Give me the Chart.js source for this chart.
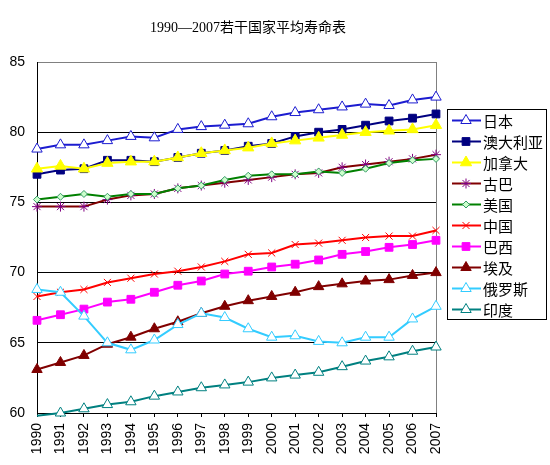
<!DOCTYPE html>
<html>
<head>
<meta charset="utf-8">
<script src="https://cdn.jsdelivr.net/npm/chart.js@4/dist/chart.umd.min.js"></script>
<style>
  html, body { margin: 0; padding: 0; background: #fff; overflow: hidden; }
  canvas { display: block; }
</style>
</head>
<body>
<canvas id="c" width="550" height="465"></canvas>
<script>
const chartTitle = '1990—2007若干国家平均寿命表';
const years = ['1990','1991','1992','1993','1994','1995','1996','1997','1998','1999','2000','2001','2002','2003','2004','2005','2006','2007'];
const yTicks = [60, 65, 70, 75, 80, 85];

const japan     = [78.8, 79.1, 79.1, 79.4, 79.7, 79.6, 80.2, 80.4, 80.5, 80.6, 81.1, 81.4, 81.6, 81.8, 82.0, 81.9, 82.3, 82.5];
const australia = [77.0, 77.3, 77.4, 78.0, 78.0, 77.9, 78.2, 78.5, 78.7, 79.0, 79.2, 79.7, 80.0, 80.2, 80.5, 80.8, 81.0, 81.3];
const canada    = [77.4, 77.6, 77.4, 77.8, 77.9, 77.9, 78.2, 78.5, 78.7, 78.9, 79.2, 79.4, 79.6, 79.8, 80.0, 80.1, 80.2, 80.5];
const cuba      = [74.7, 74.7, 74.7, 75.2, 75.5, 75.6, 76.0, 76.2, 76.4, 76.6, 76.8, 77.0, 77.1, 77.5, 77.7, 77.9, 78.1, 78.4];
const usa       = [75.2, 75.4, 75.6, 75.4, 75.6, 75.6, 76.0, 76.2, 76.6, 76.9, 77.0, 77.0, 77.2, 77.1, 77.4, 77.8, 78.0, 78.1];
const china     = [68.3, 68.6, 68.8, 69.3, 69.6, 69.9, 70.1, 70.4, 70.8, 71.3, 71.4, 72.0, 72.1, 72.3, 72.5, 72.6, 72.6, 73.0];
const brazil    = [66.6, 67.0, 67.4, 67.9, 68.1, 68.6, 69.1, 69.4, 69.9, 70.1, 70.4, 70.6, 70.9, 71.3, 71.5, 71.8, 72.0, 72.3];
const egypt     = [63.1, 63.6, 64.1, 64.9, 65.4, 66.0, 66.5, 67.1, 67.6, 68.0, 68.3, 68.6, 69.0, 69.2, 69.4, 69.5, 69.8, 70.0];
const russia    = [68.8, 68.6, 66.9, 65.0, 64.5, 65.2, 66.3, 67.1, 66.8, 66.0, 65.4, 65.5, 65.1, 65.0, 65.4, 65.4, 66.7, 67.6];
const india     = [59.8, 60.0, 60.3, 60.6, 60.8, 61.2, 61.5, 61.8, 62.0, 62.2, 62.5, 62.7, 62.9, 63.3, 63.7, 64.0, 64.4, 64.7];

const seriesNames = ['日本','澳大利亚','加拿大','古巴','美国','中国','巴西','埃及','俄罗斯','印度'];
const seriesData  = [japan, australia, canada, cuba, usa, china, brazil, egypt, russia, india];

const styles = [
  { line: '#1c1cd0', style: 'triangle', r: 6,   bg: '#ffffff', bd: '#1c1cd0' },
  { line: '#000080', style: 'rect',     r: 5.5, bg: '#000080', bd: '#000080' },
  { line: '#ffff00', style: 'triangle', r: 6.5, bg: '#ffff00', bd: '#ffff00' },
  { line: '#800000', style: 'star',     r: 5,   bg: '#800080', bd: '#800080' },
  { line: '#008000', style: 'rectRot',  r: 3.5, bg: '#ccffcc', bd: '#339966' },
  { line: '#ff0000', style: 'crossRot', r: 5,   bg: '#ff0000', bd: '#ff0000' },
  { line: '#ff00ff', style: 'rect',     r: 5.5, bg: '#ff00ff', bd: '#ff00ff' },
  { line: '#800000', style: 'triangle', r: 6,   bg: '#800000', bd: '#800000' },
  { line: '#33ccff', style: 'triangle', r: 6,   bg: '#ffffff', bd: '#33ccff' },
  { line: '#008080', style: 'triangle', r: 6,   bg: '#ffffff', bd: '#008080' }
];

const yMin = yTicks[0], yMax = yTicks[yTicks.length - 1];

const datasets = seriesNames.map((name, i) => {
  const s = styles[i];
  return {
    label: name,
    data: seriesData[i],
    borderColor: s.line,
    backgroundColor: s.bg,
    borderWidth: 2,
    tension: 0,
    pointStyle: s.style,
    pointRadius: (ctx) => (ctx.raw < yMin ? 0 : s.r),
    pointBackgroundColor: s.bg,
    pointBorderColor: s.bd,
    pointBorderWidth: 1,
    clip: false,
    order: seriesNames.length - i
  };
});

const sansFont = '"Liberation Sans", Arial, sans-serif';

const decorPlugin = {
  id: 'decor',
  afterDraw(chart) {
    const ctx = chart.ctx;
    ctx.save();
    // title
    ctx.fillStyle = '#000';
    ctx.font = '14px "Liberation Serif", "Noto Sans CJK SC", serif';
    ctx.textAlign = 'center';
    ctx.textBaseline = 'middle';
    ctx.fillText(chartTitle, 248, 28);

    // legend
    const bx = 447.5, by = 109.5, bw = 99, bh = 210;
    ctx.fillStyle = '#fff';
    ctx.fillRect(bx, by, bw, bh);
    ctx.strokeStyle = '#000';
    ctx.lineWidth = 1;
    ctx.strokeRect(bx, by, bw, bh);
    chart.data.datasets.forEach((ds, i) => {
      const s = styles[i];
      const y = 120.5 + i * 21;
      ctx.strokeStyle = ds.borderColor;
      ctx.lineWidth = 2;
      ctx.beginPath();
      ctx.moveTo(452, y);
      ctx.lineTo(481, y);
      ctx.stroke();
      ctx.fillStyle = s.bg;
      ctx.strokeStyle = s.bd;
      ctx.lineWidth = 1;
      if (Chart.helpers && Chart.helpers.drawPoint) {
        Chart.helpers.drawPoint(ctx, { pointStyle: s.style, radius: s.r, rotation: 0, borderWidth: 1 }, 466, y);
      }
      ctx.fillStyle = '#000';
      ctx.font = '15px "Noto Sans CJK SC", sans-serif';
      ctx.textAlign = 'left';
      ctx.textBaseline = 'middle';
      ctx.fillText(ds.label, 483, y + 1);
    });
    ctx.restore();
  }
};

new Chart(document.getElementById('c'), {
  type: 'line',
  data: { labels: years, datasets },
  options: {
    responsive: false,
    animation: false,
    events: [],
    layout: { padding: { top: 62, right: 114, left: 0, bottom: 0 } },
    plugins: { legend: { display: false }, title: { display: false }, tooltip: { enabled: false } },
    scales: {
      x: {
        type: 'category',
        offset: false,
        grid: {
          display: true,
          drawTicks: true,
          tickLength: 4,
          tickColor: '#000',
          color: (c) => (c.index === years.length - 1 ? '#808080' : 'rgba(0,0,0,0)')
        },
        border: { display: true, color: '#000', width: 1 },
        ticks: {
          autoSkip: false,
          maxRotation: 90,
          minRotation: 90,
          padding: 6,
          color: '#000',
          font: { family: sansFont, size: 14 }
        },
        afterFit: (s) => { s.height = 52; }
      },
      y: {
        min: yMin,
        max: yMax,
        grid: {
          drawTicks: false,
          color: (c) => (c.tick && c.tick.value === yMax ? '#808080' : '#000')
        },
        border: { display: true, color: '#000', width: 1 },
        afterBuildTicks: (s) => { s.ticks = yTicks.map(v => ({ value: v })); },
        ticks: {
          padding: 12,
          color: '#000',
          font: { family: sansFont, size: 14 }
        },
        afterFit: (s) => { s.width = 37; }
      }
    }
  },
  plugins: [decorPlugin]
});
</script>
</body>
</html>
